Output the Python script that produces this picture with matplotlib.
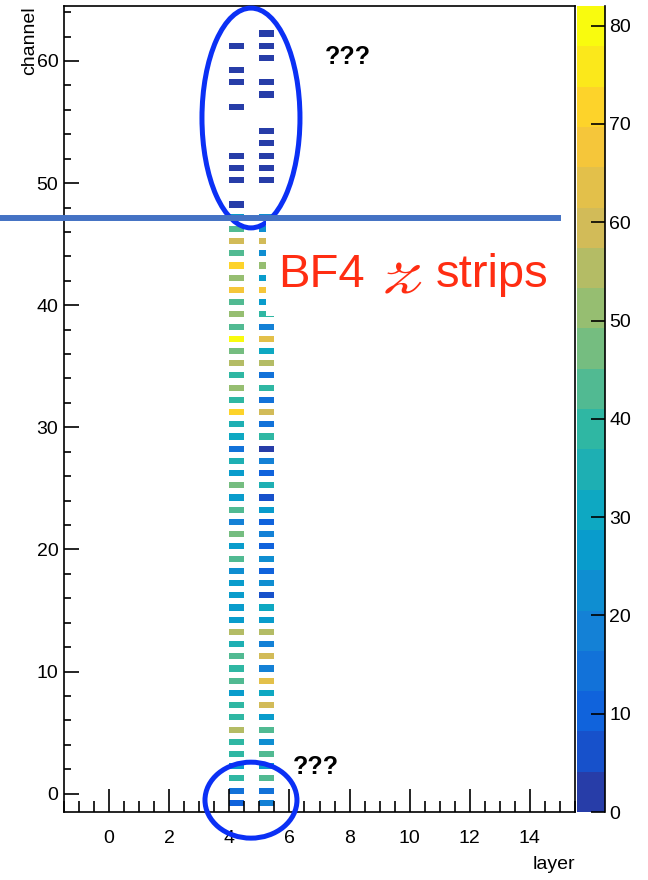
import numpy as np
import matplotlib
matplotlib.use("Agg")
import matplotlib.pyplot as plt
from matplotlib.colors import ListedColormap, BoundaryNorm, LinearSegmentedColormap
from matplotlib.patches import Ellipse, Rectangle
from matplotlib.lines import Line2D
from matplotlib.ticker import MultipleLocator

plt.rcParams['font.family'] = ['Liberation Sans', 'DejaVu Sans']

# hit counts per channel, channels -1 .. 62
channels = list(range(-1, 63))
layer4_counts = [
    10, 14, 39, 27, 39, 39, 55, 39, 39, 27,   # -1 .. 8
    43, 39, 43, 35, 55, 27, 27, 27, 27, 22,   # 9 .. 18
    43, 27, 47, 18, 43, 27, 47, 27, 35, 14,   # 19 .. 28
    31, 35, 72, 39, 51, 39, 55, 47, 80, 43,   # 29 .. 38
    51, 43, 67, 51, 72, 43, 59, 43, 27, 2,    # 39 .. 48
    0, 2, 2, 2, 0, 0, 0, 2, 0, 2,             # 49 .. 58
    2, 0, 2, 0,                               # 59 .. 62
]
layer5_counts = [
    18, 14, 43, 27, 43, 22, 43, 27, 59, 31,   # -1 .. 8
    63, 18, 59, 18, 55, 27, 31, 6, 22, 10,    # 9 .. 18
    22, 10, 18, 10, 27, 6, 35, 10, 18, 2,     # 19 .. 28
    39, 14, 59, 14, 39, 14, 55, 31, 63, 18,   # 29 .. 38
    39, 27, 67, 27, 51, 22, 59, 22, 22, 0,    # 39 .. 48
    0, 2, 2, 2, 2, 2, 0, 0, 2, 2,             # 49 .. 58
    0, 2, 2, 2,                               # 59 .. 62
]
layers = [4, 5]
z_max = 82
n_levels = 20

# ROOT kBird palette, one colour per contour band
bird_r = [0.2082, 0.0592, 0.0780, 0.0232, 0.1802, 0.5301, 0.8186, 0.9956, 0.9764]
bird_g = [0.1664, 0.3599, 0.5041, 0.6419, 0.7178, 0.7492, 0.7328, 0.7862, 0.9832]
bird_b = [0.5293, 0.8684, 0.8385, 0.7914, 0.6425, 0.4662, 0.3499, 0.1968, 0.0539]
bird = LinearSegmentedColormap.from_list(
    'bird', list(zip(np.linspace(0, 1, 9), zip(bird_r, bird_g, bird_b))))
band_cmap = ListedColormap([bird((i + 1) / n_levels) for i in range(n_levels)])
norm = BoundaryNorm(np.linspace(0, z_max, n_levels + 1), n_levels)

# 2D histogram with 0.5 wide bins
xedges = np.arange(-1.5, 15.51, 0.5)
yedges = np.arange(-1.5, 64.51, 0.5)
grid = np.zeros((len(yedges) - 1, len(xedges) - 1))
for layer, counts in zip(layers, [layer4_counts, layer5_counts]):
    col = np.searchsorted(xedges, layer, side='right') - 1
    for ch, n in zip(channels, counts):
        row = np.searchsorted(yedges, ch, side='right') - 1
        grid[row, col] = n
grid = np.ma.masked_equal(grid, 0)

fig = plt.figure(figsize=(6.48, 8.8), dpi=100)
ax = fig.add_axes([0.09877, 0.07727, 0.78858, 0.91591])
cax = fig.add_axes([0.89043, 0.07727, 0.04321, 0.91591])

mesh = ax.pcolormesh(xedges, yedges, grid, cmap=band_cmap, norm=norm)
ax.set_xlim(-1.5, 15.5)
ax.set_ylim(-1.5, 64.5)

ax.xaxis.set_major_locator(MultipleLocator(2))
ax.xaxis.set_minor_locator(MultipleLocator(0.5))
ax.yaxis.set_major_locator(MultipleLocator(10))
ax.yaxis.set_minor_locator(MultipleLocator(2))
ax.tick_params(axis='x', which='major', direction='in', length=16.5, width=1.2, labelsize=14, pad=13)
ax.tick_params(axis='x', which='minor', direction='in', length=8, width=1.2)
ax.tick_params(axis='y', which='major', direction='in', length=11, width=1.2, labelsize=14, pad=4)
ax.tick_params(axis='y', which='minor', direction='in', length=5, width=1.2)
for sp in ax.spines.values():
    sp.set_linewidth(1.2)

ax.set_xlabel('layer', fontsize=14, loc='right')
ax.xaxis.set_label_coords(1.0, -0.055)
ax.set_ylabel('channel', fontsize=14, loc='top')
ax.yaxis.set_label_coords(-0.05, 1.0)

cbar = fig.colorbar(mesh, cax=cax, ticks=range(0, 81, 10))
cbar.outline.set_visible(False)
cax.tick_params(direction='in', length=10, width=1.2, labelsize=14, pad=3)
cax.minorticks_off()
cax.plot([1, 1], [0, 1], transform=cax.transAxes, color='black', lw=1.2, clip_on=False)

# annotations
ell_color = '#0b30f5'
ax.add_patch(Ellipse((4.72, 55.33), 3.26, 18.0, fill=False, ec=ell_color, lw=3.6,
                     clip_on=False, zorder=5))
ax.add_patch(Ellipse((4.72, -0.53), 3.06, 6.22, fill=False, ec=ell_color, lw=3.6,
                     clip_on=False, zorder=5))

fig.patches.append(Rectangle((0.4105, 0.6409), 0.446, 0.108, transform=fig.transFigure,
                             facecolor='white', edgecolor='none', zorder=2))
fig.lines.append(Line2D([0, 0.861], [0.7523, 0.7523], transform=fig.transFigure,
                        color='#4472c4', lw=4.3, zorder=3))

red = '#ff2d12'
base_y = 0.6739
fig.text(0.429, base_y, 'BF4', color=red, fontsize=34, va='baseline', ha='left', zorder=4)
fig.text(0.588, base_y - 0.006, r'$\mathscr{z}$', color=red, fontsize=46, va='baseline',
         ha='left', math_fontfamily='stix', zorder=4)
fig.text(0.673, base_y, 'strips', color=red, fontsize=34, va='baseline', ha='left', zorder=4)
fig.text(0.537, 0.935, '???', fontsize=18, fontweight='bold', ha='center', va='center')
fig.text(0.488, 0.128, '???', fontsize=18, fontweight='bold', ha='center', va='center')

fig.savefig('out.png', dpi=100)
